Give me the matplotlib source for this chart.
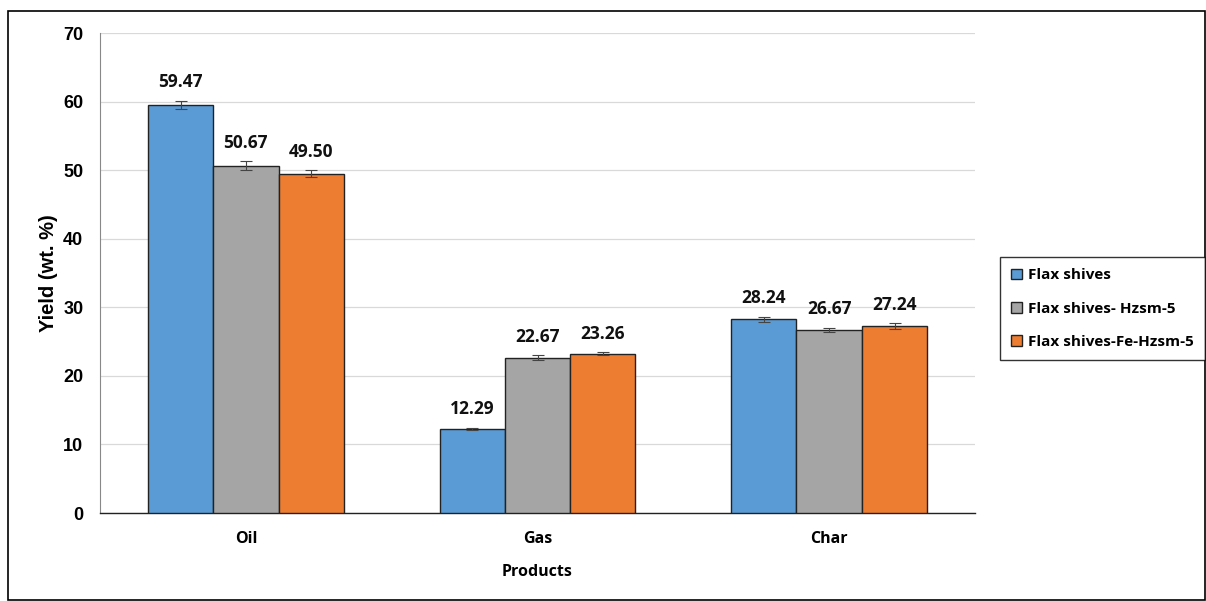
import matplotlib
matplotlib.use("Agg")
import matplotlib.pyplot as plt
import numpy as np
from matplotlib.patches import Rectangle

categories = ["Oil", "Gas", "Char"]
series = ["Flax shives", "Flax shives- Hzsm-5", "Flax shives-Fe-Hzsm-5"]
flax = [59.47, 12.29, 28.24]
hzsm = [50.67, 22.67, 26.67]
fehzsm = [49.50, 23.26, 27.24]
flax_err = [0.6, 0.15, 0.4]
hzsm_err = [0.6, 0.3, 0.3]
fehzsm_err = [0.5, 0.15, 0.4]
colors = ["#5B9BD5", "#A5A5A5", "#ED7D31"]

LBL = "Open Sans"

fig = plt.figure(figsize=(12.06, 6.01), dpi=100)
fig.patches.append(Rectangle((8/1206, 1/601), 1-9/1206, 1-12/601,
                             transform=fig.transFigure, fill=False, edgecolor="black", linewidth=1.2))
ax = fig.add_axes([100/1206, 1-513/601, 875/1206, 480/601])

x = np.arange(len(categories))
w = 0.224
data = [flax, hzsm, fehzsm]
errs = [flax_err, hzsm_err, fehzsm_err]
handles = []
for i, (vals, err, c, name) in enumerate(zip(data, errs, colors, series)):
    pos = x + (i - 1) * w
    b = ax.bar(pos, vals, w, color=c, edgecolor="#222222", linewidth=1.0, label=name, zorder=3,
               yerr=err, error_kw=dict(ecolor="#444444", elinewidth=0.8, capsize=4, capthick=0.8, zorder=4))
    handles.append(b)
    for p, v, e in zip(pos, vals, err):
        ax.text(p, v + e + 1.4, f"{v:.2f}", ha="center", va="bottom", fontsize=12.5,
                fontweight="bold", family=LBL, color="#111111")

ax.set_xlim(-0.5, 2.5)
ax.set_ylim(0, 70)
ax.set_yticks(range(0, 71, 10))
ax.set_xticks(x)
ax.set_xticklabels(categories)
for lab in ax.get_xticklabels():
    lab.set_fontweight("bold"); lab.set_fontsize(11.5); lab.set_family(LBL)
for lab in ax.get_yticklabels():
    lab.set_fontweight("bold"); lab.set_fontsize(13); lab.set_family("Liberation Sans")
ax.tick_params(axis="x", length=0, pad=13)
ax.tick_params(axis="y", length=0, pad=12)
ax.grid(axis="y", color="#d9d9d9", linewidth=0.9, zorder=0)
ax.set_axisbelow(True)
for s in ["top", "right"]:
    ax.spines[s].set_visible(False)
ax.spines["left"].set_color("#888888")
ax.spines["bottom"].set_color("#222222")
ax.spines["bottom"].set_linewidth(1.0)

ax.set_xlabel("Products", fontsize=11.5, fontweight="bold", family=LBL, labelpad=12)
ax.set_ylabel("Yield (wt. %)", fontsize=14.5, fontweight="bold", family="Liberation Sans", labelpad=4)

leg = fig.legend(handles=handles, labels=series, loc="upper left",
                 bbox_to_anchor=(1000/1206, 1-257/601), prop=dict(family=LBL, weight="bold", size=11),
                 frameon=True, fancybox=False, edgecolor="black", handlelength=0.7, handleheight=0.7,
                 handletextpad=0.35, labelspacing=1.25, borderpad=0.75, borderaxespad=0)
leg.get_frame().set_linewidth(1.0)

fig.savefig("out.png", dpi=100)
